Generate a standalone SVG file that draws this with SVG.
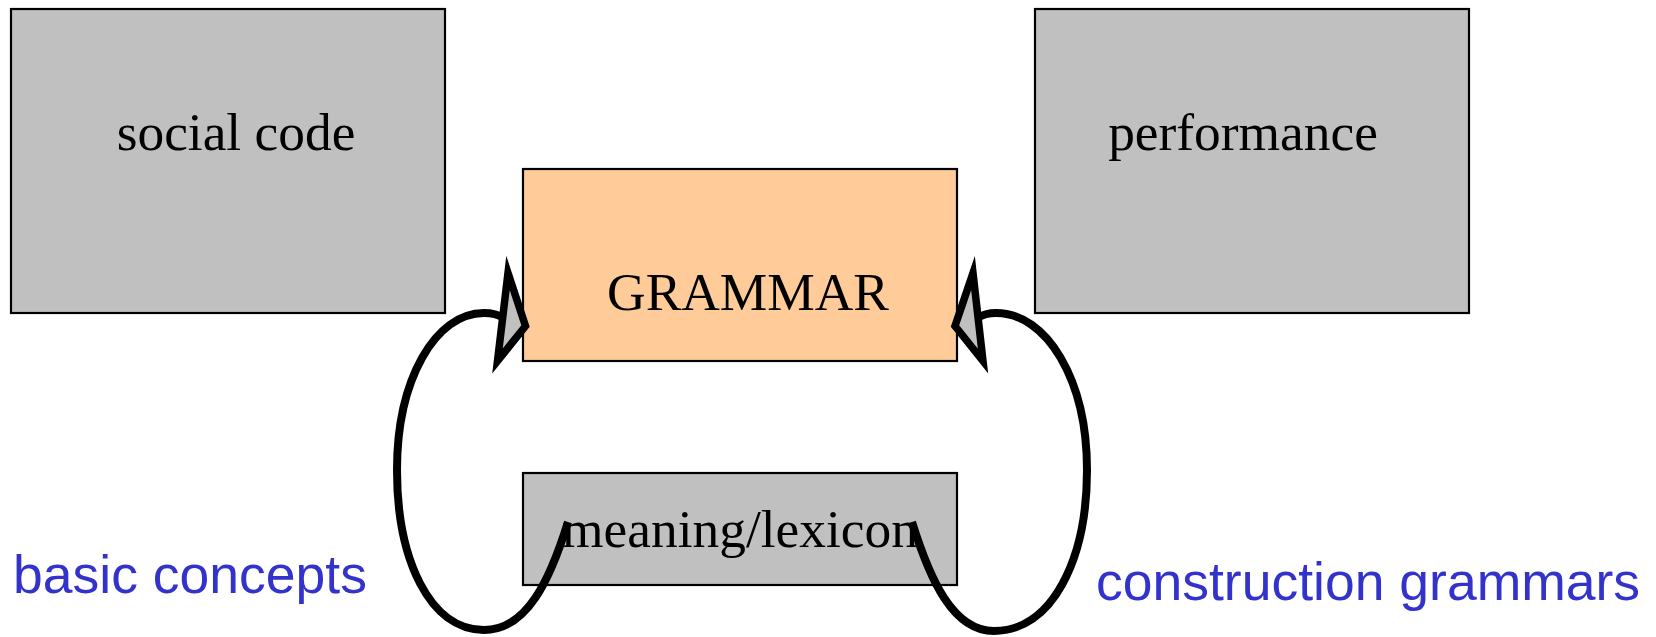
<svg xmlns="http://www.w3.org/2000/svg" width="1656" height="637" viewBox="0 0 1656 637">
<style>
.box{stroke:#000;stroke-width:2.2}
.gray{fill:#c0c0c0}
.orange{fill:#ffcc99}
.lbl{font-family:"Liberation Serif","Times New Roman",serif;font-size:53.4px;fill:#000;text-anchor:middle}
.blue{font-family:"Liberation Sans",Arial,sans-serif;font-size:53.5px;fill:#3333cc}
.loop{fill:none;stroke:#000;stroke-width:8;stroke-linecap:butt}
.head{fill:#c0c0c0;stroke:#000;stroke-width:7.5;stroke-linejoin:miter;stroke-miterlimit:12}
</style>
<rect width="1656" height="637" fill="#fff"/>
<g id="social-code">
<rect class="box gray" x="11" y="9" width="434" height="304"/>
<text class="lbl" x="236" y="150">social code</text>
</g>
<g id="performance">
<rect class="box gray" x="1035" y="9" width="434" height="304"/>
<text class="lbl" x="1243" y="150">performance</text>
</g>
<g id="grammar">
<rect class="box orange" x="523" y="169" width="434" height="192"/>
<text class="lbl" x="748" y="310">GRAMMAR</text>
</g>
<g id="meaning-lexicon">
<rect class="box gray" x="523" y="473" width="434" height="112"/>
<text class="lbl" x="740" y="547">meaning/lexicon</text>
</g>
<g id="connectors">
<path class="loop" d="M568,522 C550,580 527,630 484,630 C430,630 397,560 397,470 C397,380 435,313 484,313 C493,313 499,315 504,318"/>
<polygon class="head" points="508,273 525.5,326 497.5,361"/>
<path class="loop" d="M912,522 C930,580 953,631 994,631 C1052,631 1087,560 1087,470 C1087,380 1047,313 996,313 C987,313 982,315 977,318"/>
<polygon class="head" points="973,273 955,326 983,361"/>
</g>
<g id="labels">
<text class="blue" x="13" y="593">basic concepts</text>
<text class="blue" x="1096" y="600">construction grammars</text>
</g>
</svg>
